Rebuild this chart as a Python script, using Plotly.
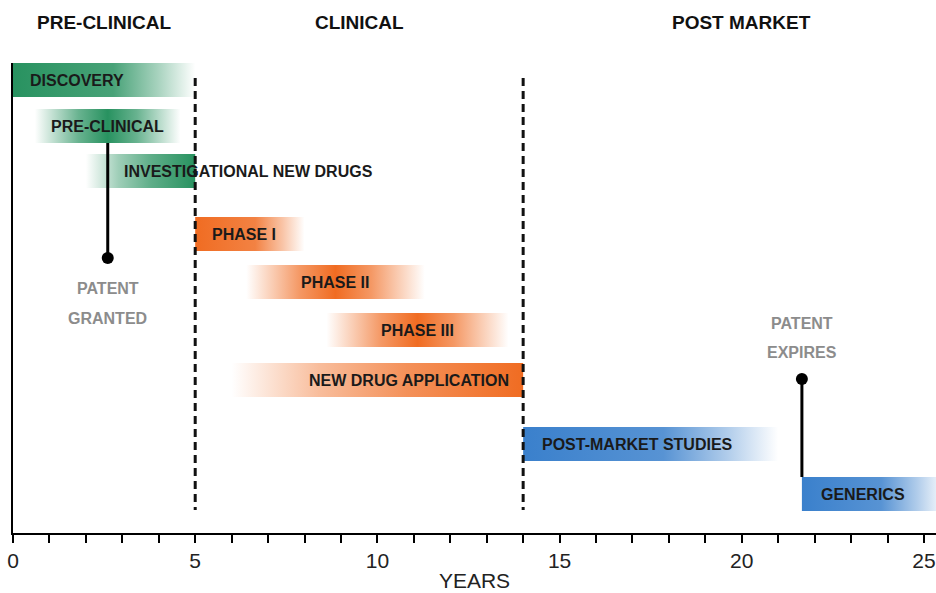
import plotly.graph_objects as go

# ---------------- data ----------------
stages = ["DISCOVERY", "PRE-CLINICAL", "INVESTIGATIONAL NEW DRUGS", "PHASE I",
          "PHASE II", "PHASE III", "NEW DRUG APPLICATION", "POST-MARKET STUDIES",
          "GENERICS"]
stage_group = ["pre", "pre", "pre", "clin", "clin", "clin", "clin", "post", "post"]
start_year = [0.0, 0.6, 2.0, 5.0, 6.4, 8.6, 6.0, 14.0, 21.65]
end_year = [5.0, 4.6, 5.0, 8.0, 11.3, 13.6, 14.0, 21.0, 25.6]

period_names = ["PRE-CLINICAL", "CLINICAL", "POST MARKET"]
period_start = [0, 5, 14]
period_end = [5, 14, 25]

milestone_lines = [["PATENT", "GRANTED"], ["PATENT", "EXPIRES"]]
milestone_year = [2.6, 21.65]

x_tick_vals = [0, 5, 10, 15, 20, 25]
x_tick_text = ["0", "5", "10", "15", "20", "25"]

# ---------------- layout / style ----------------
FONT = "Liberation Sans, Arial, sans-serif"
GROUP_RGB = {"pre": (40, 146, 96), "clin": (240, 108, 34), "post": (58, 128, 204)}
PLOT_TOP, PLOT_BOTTOM = 63, 533
ROW_Y = [80, 126, 171, 234, 282, 330, 380, 444, 494]   # y in plot units (top=63, bottom=533)
BAR_H = 34
PROFILE = ["out", "peak", "in", "out", "peak", "peak", "in", "out", "out"]
LABEL_ANCHOR = [("start", 15), ("center", 0), ("start", 36), ("start", 15),
                ("center", 0), ("center", 0), ("end", -12), ("start", 17), ("start", 17)]
HEADER_X = [2.5, 9.5, 20.0]
HEADER_Y = 22
MILESTONE_STEM = [(143, 258), (477, 379)]  # (bar edge, dot)
MILESTONE_TEXT_Y = [(288, 318), (323, 352)]


def rgba(rgb, a):
    return "rgba(%d,%d,%d,%.3f)" % (rgb[0], rgb[1], rgb[2], a)


def colorscale(kind, rgb):
    if kind == "out":
        stops = [(0, 1.0), (0.55, 0.85), (0.8, 0.4), (1, 0.0)]
    elif kind == "in":
        stops = [(0, 0.0), (0.3, 0.45), (0.6, 0.75), (1, 1.0)]
    else:
        stops = [(0, 0.0), (0.3, 0.7), (0.5, 1.0), (0.7, 0.7), (1, 0.0)]
    return [[p, rgba(rgb, a)] for p, a in stops]


def paper_y(py):
    return (PLOT_BOTTOM - py) / (PLOT_BOTTOM - PLOT_TOP)


fig = go.Figure()

# phase boundaries (dashed)
for xb in period_end[:2]:
    fig.add_shape(type="line", xref="x", yref="y", x0=xb, x1=xb, y0=78, y1=510,
                  line=dict(color="#111", width=3, dash="8px,5px"), layer="above")

# bars with gradients
for i, name in enumerate(stages):
    s, e = start_year[i], end_year[i]
    y0, y1 = ROW_Y[i] - BAR_H / 2, ROW_Y[i] + BAR_H / 2
    rgb = GROUP_RGB[stage_group[i]]
    fig.add_trace(go.Scatter(
        x=[s, e, e, s, s], y=[y0, y0, y1, y1, y0], mode="lines",
        line=dict(width=0), fill="toself",
        fillgradient=dict(type="horizontal", colorscale=colorscale(PROFILE[i], rgb)),
        hoverinfo="skip", showlegend=False))
    kind, shift = LABEL_ANCHOR[i]
    if kind == "start":
        ax, anchor = s, "left"
    elif kind == "end":
        ax, anchor = e, "right"
    else:
        ax, anchor = (s + e) / 2, "center"
    fig.add_annotation(x=ax, y=ROW_Y[i], xref="x", yref="y", text=name,
                       showarrow=False, xanchor=anchor, yanchor="middle", xshift=shift,
                       font=dict(family=FONT, size=16, color="#1a1a1a", weight="bold"))

# milestones
for k, xm in enumerate(milestone_year):
    ya, yd = MILESTONE_STEM[k]
    fig.add_trace(go.Scatter(x=[xm, xm], y=[ya, yd], mode="lines",
                             line=dict(color="black", width=3),
                             hoverinfo="skip", showlegend=False))
    fig.add_trace(go.Scatter(x=[xm], y=[yd], mode="markers",
                             marker=dict(color="black", size=12),
                             hoverinfo="skip", showlegend=False))
    for line_txt, ty in zip(milestone_lines[k], MILESTONE_TEXT_Y[k]):
        fig.add_annotation(x=xm, y=ty, xref="x", yref="y", text=line_txt,
                           showarrow=False, xanchor="center", yanchor="middle",
                           font=dict(family=FONT, size=16, color="#8c8c8c", weight="bold"))

# period headers
for name, hx in zip(period_names, HEADER_X):
    fig.add_annotation(x=hx, y=paper_y(HEADER_Y), xref="x", yref="paper", text=name,
                       showarrow=False, xanchor="center", yanchor="middle",
                       font=dict(family=FONT, size=19, color="#111", weight="bold"))

fig.update_layout(
    width=936, height=593,
    margin=dict(l=13, r=0, t=63, b=60, autoexpand=False),
    paper_bgcolor="white", plot_bgcolor="white",
    showlegend=False,
    xaxis=dict(range=[0, 25.33], tickvals=x_tick_vals, ticktext=x_tick_text,
               showgrid=False, zeroline=False, showline=True, linecolor="black",
               linewidth=2, ticks="outside", ticklen=8, tickwidth=2, tickcolor="black",
               minor=dict(dtick=1, tick0=0, ticks="outside", ticklen=8, tickwidth=2,
                          tickcolor="black", showgrid=False),
               tickfont=dict(family=FONT, size=21, color="#222"),
               ticklabeloverflow="allow",
               title=dict(text="YEARS", font=dict(family=FONT, size=21, color="#222"),
                          standoff=2),
               fixedrange=True),
    yaxis=dict(range=[PLOT_BOTTOM, PLOT_TOP], showgrid=False, zeroline=False,
               showline=True, linecolor="black", linewidth=2, showticklabels=False,
               ticks="", fixedrange=True),
)

fig.write_html("out.html", config={"displayModeBar": False},
               post_script="document.body.style.margin='0';document.body.style.padding='0';")
